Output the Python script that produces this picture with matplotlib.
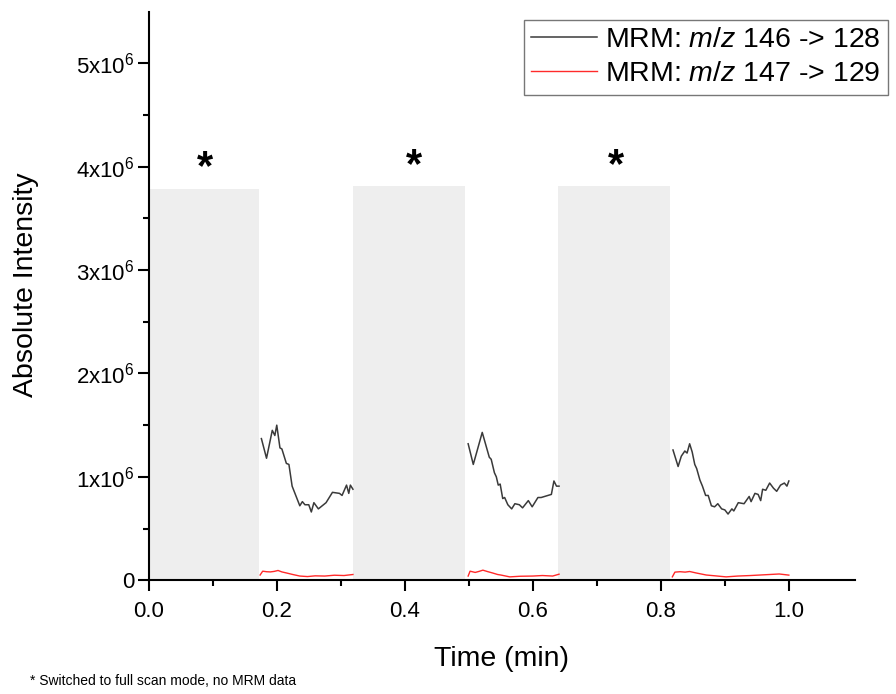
import numpy as np
import matplotlib
matplotlib.use('Agg')
from matplotlib import pyplot as plt

plt.rcParams['font.family'] = ['Liberation Sans', 'DejaVu Sans']
plt.rcParams['mathtext.fontset'] = 'custom'
plt.rcParams['mathtext.rm'] = 'Liberation Sans'
plt.rcParams['mathtext.it'] = 'Liberation Sans:italic'
plt.rcParams['mathtext.default'] = 'regular'

# MRM m/z 146 -> 128, three segments (time in min, intensity in 1e6)
t146_a = [0.176, 0.184, 0.193, 0.197, 0.200, 0.205, 0.208, 0.215, 0.219, 0.224, 0.236, 0.240,
          0.244, 0.250, 0.254, 0.258, 0.265, 0.277, 0.287, 0.298, 0.302, 0.309, 0.3125, 0.315, 0.319]
y146_a = [1.37, 1.18, 1.45, 1.40, 1.50, 1.28, 1.27, 1.13, 1.12, 0.91, 0.72, 0.76,
          0.73, 0.73, 0.66, 0.75, 0.69, 0.75, 0.85, 0.84, 0.82, 0.92, 0.84, 0.92, 0.88]
t146_b = [0.499, 0.507, 0.512, 0.521, 0.532, 0.535, 0.540, 0.543, 0.546, 0.549, 0.553, 0.556,
          0.561, 0.567, 0.572, 0.579, 0.584, 0.593, 0.599, 0.608, 0.613, 0.629, 0.633, 0.637, 0.641]
y146_b = [1.32, 1.12, 1.23, 1.43, 1.19, 1.17, 1.04, 1.00, 0.92, 0.93, 0.79, 0.80,
          0.73, 0.69, 0.74, 0.73, 0.70, 0.77, 0.71, 0.80, 0.80, 0.83, 0.96, 0.91, 0.91]
t146_c = [0.819, 0.827, 0.832, 0.8375, 0.841, 0.845, 0.849, 0.853, 0.856, 0.861, 0.865, 0.870,
          0.874, 0.879, 0.884, 0.889, 0.895, 0.900, 0.905, 0.911, 0.914, 0.921, 0.930, 0.938,
          0.941, 0.947, 0.952, 0.956, 0.959, 0.964, 0.970, 0.976, 0.981, 0.987, 0.993, 0.997, 1.000]
y146_c = [1.26, 1.10, 1.20, 1.25, 1.23, 1.32, 1.24, 1.12, 1.08, 0.97, 0.91, 0.82,
          0.82, 0.72, 0.71, 0.74, 0.69, 0.68, 0.64, 0.69, 0.67, 0.75, 0.74, 0.81,
          0.76, 0.84, 0.83, 0.77, 0.88, 0.87, 0.94, 0.89, 0.86, 0.92, 0.94, 0.91, 0.96]

# MRM m/z 147 -> 129
t147_a = [0.174, 0.178, 0.184, 0.190, 0.196, 0.202, 0.208, 0.215, 0.225, 0.236, 0.248, 0.260,
          0.275, 0.290, 0.305, 0.319]
y147_a = [0.05, 0.087, 0.082, 0.08, 0.085, 0.094, 0.08, 0.07, 0.055, 0.04, 0.035, 0.042,
          0.04, 0.048, 0.045, 0.055]
t147_b = [0.499, 0.502, 0.510, 0.516, 0.522, 0.530, 0.537, 0.545, 0.550, 0.564, 0.580, 0.600,
          0.615, 0.631, 0.641]
y147_b = [0.04, 0.087, 0.075, 0.085, 0.097, 0.082, 0.07, 0.055, 0.05, 0.032, 0.038, 0.04,
          0.045, 0.04, 0.058]
t147_c = [0.818, 0.822, 0.830, 0.838, 0.845, 0.855, 0.871, 0.885, 0.902, 0.920, 0.940, 0.955,
          0.970, 0.985, 1.000]
y147_c = [0.032, 0.078, 0.082, 0.078, 0.084, 0.07, 0.05, 0.042, 0.032, 0.04, 0.045, 0.05,
          0.055, 0.06, 0.049]

# full scan windows (start, end, height in 1e6)
scan_start = [0.0, 0.319, 0.639]
scan_end = [0.172, 0.494, 0.814]
scan_top = [3.79, 3.81, 3.81]
star_x = [0.0875, 0.414, 0.73]

fig = plt.figure(figsize=(8.96, 6.94), dpi=100)
ax = fig.add_axes([0.166, 0.164, 0.788, 0.819])

for s, e, h in zip(scan_start, scan_end, scan_top):
    ax.fill_between([s, e], 0, h * 1e6, color='#eeeeee', lw=0, zorder=0)
for x, h in zip(star_x, scan_top):
    ax.text(x, h * 1e6, '*', ha='center', va='bottom', fontsize=30, fontweight='bold')

black = '#3a3a3a'
red = '#ff2a2a'
for i, (t, y) in enumerate([(t146_a, y146_a), (t146_b, y146_b), (t146_c, y146_c)]):
    ax.plot(t, np.array(y) * 1e6, color=black, lw=1.1,
            label=r'MRM: $\mathit{m/z\ 146}$ -> 128' if i == 0 else None)
for i, (t, y) in enumerate([(t147_a, y147_a), (t147_b, y147_b), (t147_c, y147_c)]):
    ax.plot(t, np.array(y) * 1e6, color=red, lw=1.0,
            label=r'MRM: $\mathit{m/z}$ 147 -> 129' if i == 0 else None)

ax.set_xlim(0, 1.103)
ax.set_ylim(0, 5.5e6)
ax.set_xticks([0.0, 0.2, 0.4, 0.6, 0.8, 1.0])
ax.set_xticks(np.arange(0.1, 1.1, 0.2), minor=True)
ax.set_yticks([0, 1e6, 2e6, 3e6, 4e6, 5e6])
ax.set_yticklabels(['0'] + [r'%dx10$^6$' % k for k in range(1, 6)])
ax.set_yticks(np.arange(0.5e6, 5.5e6, 1e6), minor=True)
ax.tick_params(which='major', direction='out', length=8, width=1.5, labelsize=16)
ax.tick_params(axis='x', which='major', pad=7)
ax.tick_params(axis='y', which='major', pad=2)
ax.tick_params(which='minor', direction='out', length=4, width=1.5)
for sp in ['top', 'right']:
    ax.spines[sp].set_visible(False)
for sp in ['left', 'bottom']:
    ax.spines[sp].set_linewidth(1.5)

ax.set_xlabel('Time (min)', fontsize=20.5, va='top')
ax.xaxis.set_label_coords(0.5, -0.115)
ax.set_ylabel('Absolute Intensity', fontsize=20.5)
ax.yaxis.set_label_coords(-0.155, 0.52)

leg = ax.legend(loc='upper right', bbox_to_anchor=(1.047, 0.986), fontsize=20.5, frameon=True,
                fancybox=False, edgecolor='#555555', handlelength=2.3, handletextpad=0.3,
                borderpad=0.25, labelspacing=0.3, borderaxespad=0)
leg.get_frame().set_linewidth(1.0)

fig.text(0.033, 0.013, '* Switched to full scan mode, no MRM data', fontsize=10)

fig.savefig('out.png', dpi=100)
